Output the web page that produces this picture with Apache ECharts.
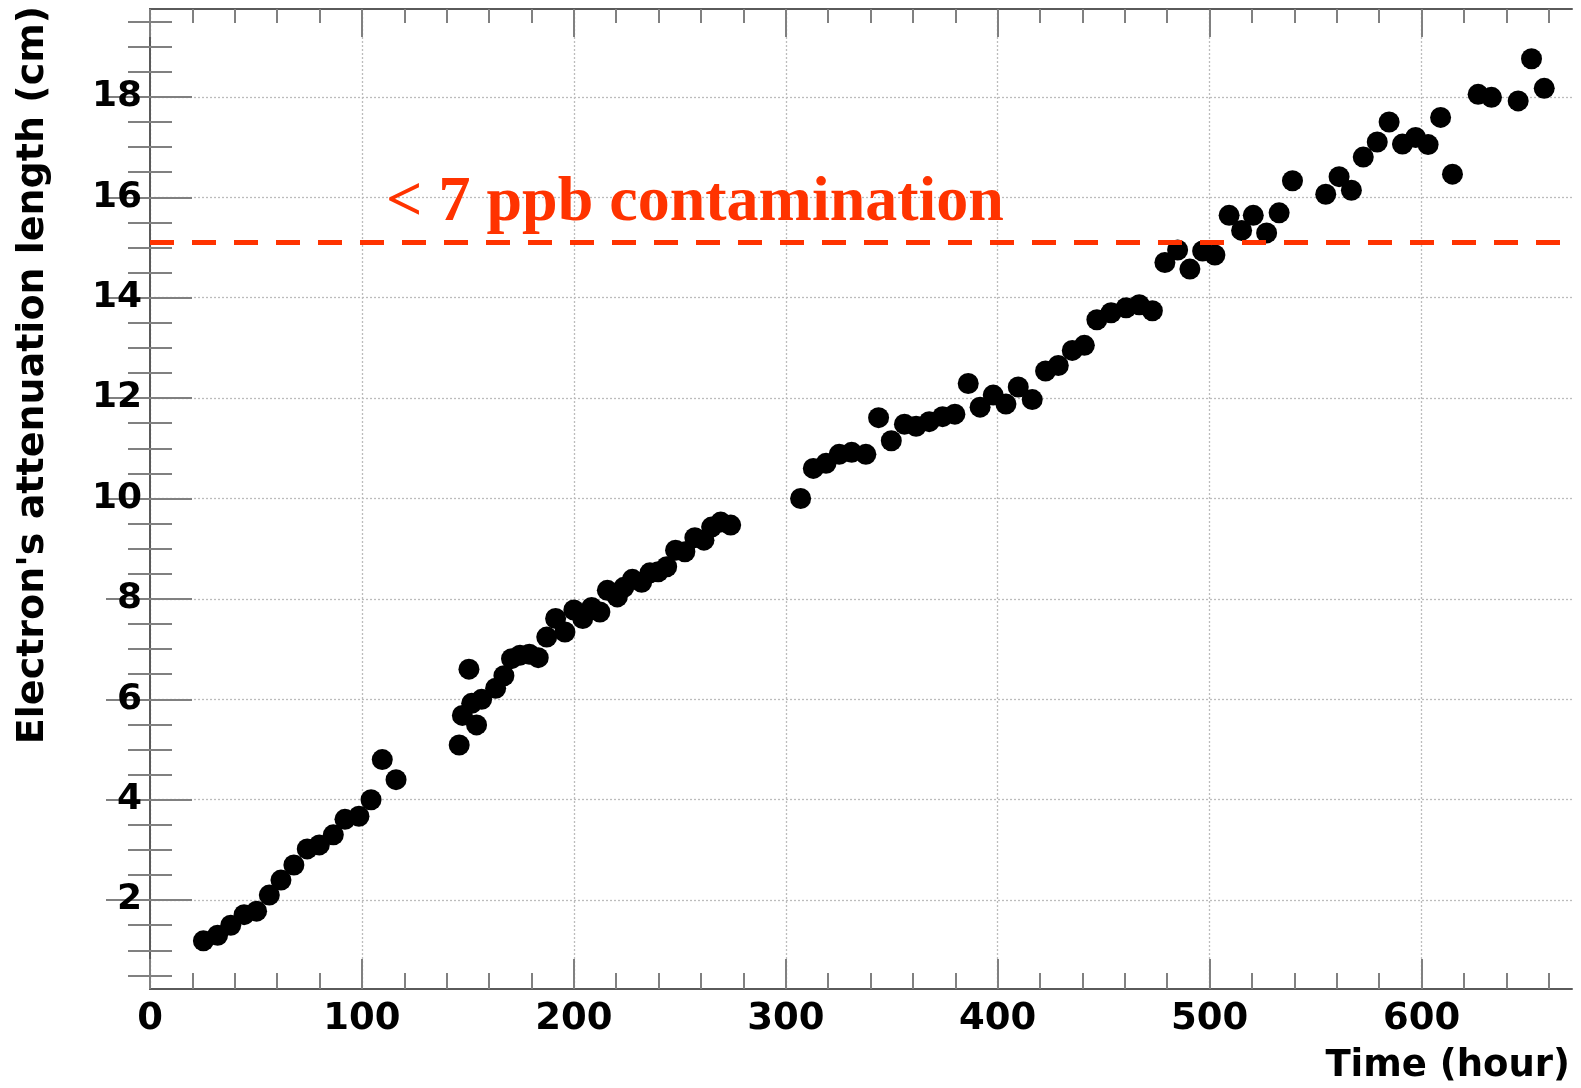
<!DOCTYPE html>
<html>
<head>
<meta charset="utf-8">
<script src="https://cdn.jsdelivr.net/npm/echarts@6/dist/echarts.min.js"></script>
<style>
  html, body { margin: 0; padding: 0; background: #fff; }
  #chart { width: 1581px; height: 1088px; }
</style>
</head>
<body>
<div id="chart"></div>
<script>
// ---- data ----
const timeHours = [
  25.2, 31.9, 38.1, 44.4, 50.3, 56.3, 61.8, 67.9, 74.2, 79.9, 86.5, 92.0, 98.6, 104.3, 109.6, 116.1,
  145.9, 147.4, 150.5, 151.8, 154.1, 156.5, 163.1, 167.0, 170.6, 174.6, 179.0, 183.2, 187.2, 191.4, 195.8, 200.0,
  204.2, 208.4, 212.3, 215.8, 220.5, 223.6, 227.6, 232.0, 235.9, 239.8, 243.8, 248.0, 252.4, 257.1, 261.4, 265.0, 269.3, 274.0,
  307.0, 313.0, 319.0, 325.2, 331.1, 337.8, 343.8, 349.8, 356.0, 361.5, 367.7, 374.0, 379.8, 386.1, 391.7, 397.9,
  403.9, 409.7, 416.3, 422.6, 428.6, 435.2, 440.9, 446.8, 453.5, 460.6, 466.8, 473.0,
  478.9, 484.9, 490.7, 496.7, 502.5, 509.2, 515.1, 520.6, 526.9, 532.8, 539.1, 554.8, 561.1, 566.9, 572.5, 579.1,
  584.7, 591.0, 597.2, 603.1, 609.0, 614.6, 626.7, 633.0, 645.6, 651.9, 657.9
];
const attenuationCm = [
  1.19, 1.30, 1.50, 1.71, 1.78, 2.10, 2.40, 2.70, 3.02, 3.10, 3.30, 3.61, 3.67, 4.00, 4.80, 4.40,
  5.09, 5.68, 6.60, 5.92, 5.49, 6.00, 6.22, 6.47, 6.81, 6.88, 6.90, 6.83, 7.24, 7.61, 7.34, 7.78,
  7.61, 7.83, 7.74, 8.17, 8.04, 8.23, 8.39, 8.33, 8.52, 8.54, 8.64, 8.97, 8.94, 9.22, 9.17, 9.43, 9.53, 9.47,
  10.00, 10.60, 10.70, 10.88, 10.92, 10.88, 11.61, 11.15, 11.48, 11.44, 11.53, 11.63, 11.68, 12.29, 11.82, 12.06,
  11.88, 12.22, 11.97, 12.54, 12.65, 12.95, 13.05, 13.56, 13.70, 13.80, 13.86, 13.74,
  14.70, 14.95, 14.57, 14.93, 14.85, 15.64, 15.34, 15.64, 15.29, 15.69, 16.33, 16.06, 16.41, 16.14, 16.80, 17.10,
  17.50, 17.06, 17.19, 17.05, 17.59, 16.46, 18.05, 17.99, 17.92, 18.76, 18.17
];
const thresholdValue = 15.1;
const thresholdTimeRange = [0, 666];
const thresholdLabel = '< 7 ppb contamination';

const xRange = [0, 671];
const yRange = [0.23, 19.75];
const xMajorTicks = [0, 100, 200, 300, 400, 500, 600];
const xMinorTicks = [20, 40, 60, 80, 120, 140, 160, 180, 220, 240, 260, 280, 320, 340, 360, 380,
  420, 440, 460, 480, 520, 540, 560, 580, 620, 640, 660];
const yMajorTicks = [2, 4, 6, 8, 10, 12, 14, 16, 18];
const yMinorTicks = [0.5, 1, 1.5, 2.5, 3, 3.5, 4.5, 5, 5.5, 6.5, 7, 7.5, 8.5, 9, 9.5, 10.5, 11, 11.5,
  12.5, 13, 13.5, 14.5, 15, 15.5, 16.5, 17, 17.5, 18.5, 19, 19.5];
const xTitle = 'Time (hour)';
const yTitle = "Electron's attenuation length (cm)";

// ---- chart ----
const chart = echarts.init(document.getElementById('chart'), null, { renderer: 'canvas' });

const frameColor = '#5a5a5a';
const tickColor = '#808080';
const gridColor = '#bcbcbc';
const red = '#ff3300';
const sansBold = { fontFamily: 'DejaVu Sans', fontWeight: 'bold' };

const gridBox = { left: 150, right: 9, top: 9, bottom: 99, containLabel: false };

function xAx(gridIndex, position, ticks, len, opts) {
  return Object.assign({
    type: 'value', gridIndex, position, min: xRange[0], max: xRange[1],
    axisLine: { show: true, lineStyle: { color: frameColor, width: 2 } },
    axisTick: { show: true, inside: true, length: len, customValues: ticks, lineStyle: { color: tickColor, width: 2 } },
    axisLabel: { show: false },
    splitLine: { show: false }
  }, opts || {});
}
function yAx(gridIndex, position, ticks, len, opts) {
  return Object.assign({
    type: 'value', gridIndex, position, min: yRange[0], max: yRange[1],
    axisLine: { show: true, lineStyle: { color: frameColor, width: 2 } },
    axisTick: { show: true, inside: true, length: len, customValues: ticks, lineStyle: { color: tickColor, width: 2 } },
    axisLabel: { show: false },
    splitLine: { show: false }
  }, opts || {});
}

const option = {
  animation: false,
  backgroundColor: '#ffffff',
  grid: [Object.assign({}, gridBox), Object.assign({}, gridBox)],
  xAxis: [
    xAx(0, 'bottom', xMajorTicks, 30, {
      axisLabel: Object.assign({ show: true, customValues: xMajorTicks, fontSize: 37, color: '#000', margin: 12 }, sansBold),
      splitLine: { show: true, lineStyle: { color: gridColor, width: 1.3, type: [2, 2] } }
    }),
    xAx(0, 'top', xMajorTicks, 28),
    xAx(1, 'bottom', xMinorTicks, 16, { axisLine: { show: false } }),
    xAx(1, 'top', xMinorTicks, 14, { axisLine: { show: false } })
  ],
  yAxis: [
    yAx(0, 'left', yMajorTicks, 42, {
      axisLabel: Object.assign({ show: true, customValues: yMajorTicks, fontSize: 36, color: '#000', margin: 8 }, sansBold),
      splitLine: { show: true, lineStyle: { color: gridColor, width: 1.3, type: [2, 2] } }
    }),
    yAx(0, 'right', yMajorTicks, 44),
    yAx(1, 'left', yMinorTicks, 22, { axisLine: { show: false } }),
    yAx(1, 'right', yMinorTicks, 22, { axisLine: { show: false } })
  ],
  series: [
    {
      type: 'scatter', xAxisIndex: 0, yAxisIndex: 0,
      data: timeHours.map((t, i) => [t, attenuationCm[i]]),
      symbol: 'circle', symbolSize: 21,
      itemStyle: { color: '#000', opacity: 1 },
      z: 3,
      markLine: {
        silent: true,
        symbol: ['none', 'none'],
        label: { show: false },
        lineStyle: { color: red, width: 5, type: [24, 18], dashOffset: 0, opacity: 1 },
        emphasis: { disabled: true },
        data: [[
          { coord: [thresholdTimeRange[0], thresholdValue] },
          { coord: [thresholdTimeRange[1], thresholdValue] }
        ]]
      }
    }
  ],
  graphic: [
    {
      type: 'text', left: 386, top: 171, z: 10,
      style: { text: thresholdLabel, fill: red, font: 'bold 64px "Liberation Serif"' }
    },
    {
      type: 'text', z: 10, x: 33, y: 375, rotation: Math.PI / 2,
      style: { text: yTitle, fill: '#000', font: 'bold 38px "DejaVu Sans"', align: 'center', verticalAlign: 'middle' }
    },
    {
      type: 'text', z: 10, x: 1570, y: 1066,
      style: { text: xTitle, fill: '#000', font: 'bold 37px "DejaVu Sans"', align: 'right', verticalAlign: 'middle' }
    }
  ]
};
chart.setOption(option);
</script>
</body>
</html>
